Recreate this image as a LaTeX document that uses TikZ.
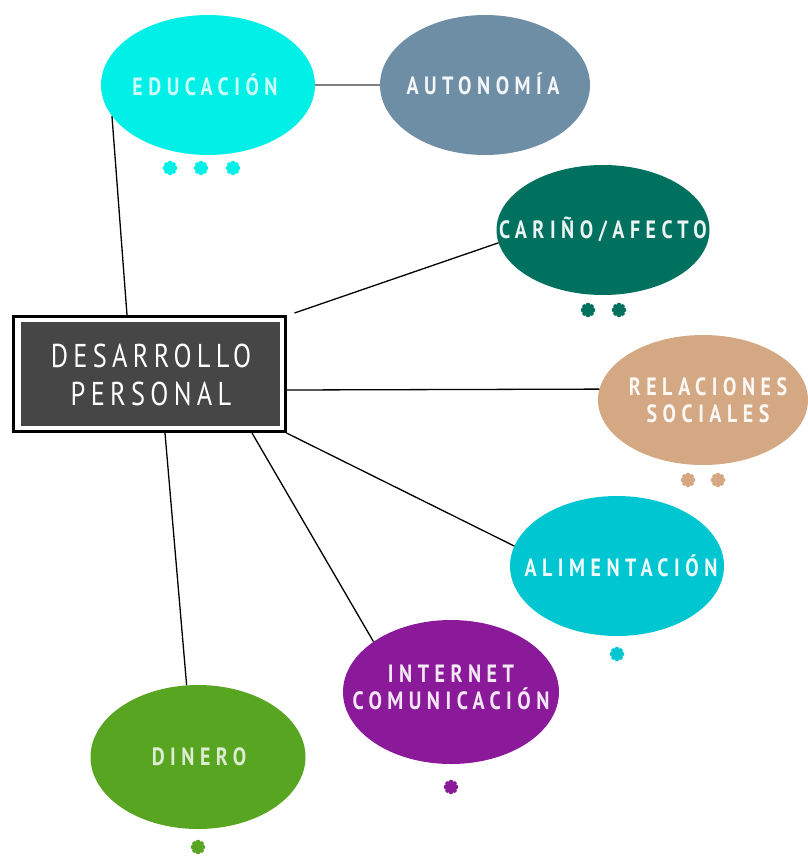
\documentclass[tikz,border=0pt]{standalone}
\usepackage{fontspec}
\setmainfont{PT Sans}
\newfontfamily\lblfont[LetterSpace=22,FakeStretch=0.8]{PT Sans Bold}
\newfontfamily\mainfont[LetterSpace=16,FakeStretch=0.8]{PT Sans}
\usetikzlibrary{shapes.geometric}
\definecolor{cEdu}{HTML}{00F0E8}
\definecolor{cAut}{HTML}{6E8EA6}
\definecolor{cCar}{HTML}{00705F}
\definecolor{cRel}{HTML}{D4A882}
\definecolor{cAli}{HTML}{00C6D2}
\definecolor{cInt}{HTML}{8B1A9A}
\definecolor{cDin}{HTML}{57A520}
\definecolor{cBox}{HTML}{464646}
\tikzset{
  bubble/.style={ellipse, inner sep=0pt},
  lbl/.style={text=white, font=\lblfont\fontsize{25}{27}\selectfont, align=center, inner sep=0pt},
  link/.style={draw=black, line width=1.3pt},
  flwr/.pic={
    \foreach \a in {0,45,...,315} \fill (\a:5) circle (2.3);
    \fill (0,0) circle (4.2);
  }
}
\begin{document}
\begin{tikzpicture}[x=1pt,y=-1pt]
\useasboundingbox (0,0) rectangle (807,859);
\fill[white] (0,0) rectangle (807,859);
% main box
\node[draw=black, line width=3pt, fill=white, minimum width=272pt, minimum height=115pt, inner sep=0pt] (box) at (149,374) {};
\node[fill=cBox, minimum width=259pt, minimum height=104pt, inner sep=0pt] (boxin) at (150,374) {};
\node[text=white, align=center, font=\mainfont\fontsize{33}{38}\selectfont, inner sep=0pt] (boxtxt) at (151,375) {DESARROLLO\\PERSONAL};
% bubbles
\node[bubble, fill=cEdu, minimum width=214pt, minimum height=140pt] (edu) at (208,85) {};
\node[bubble, fill=cAut, minimum width=210pt, minimum height=140pt] (aut) at (485,85) {};
\node[bubble, fill=cCar, minimum width=213pt, minimum height=130pt] (car) at (603,230) {};
\node[bubble, fill=cRel, minimum width=210pt, minimum height=130pt] (rel) at (703,400) {};
\node[bubble, fill=cAli, minimum width=214pt, minimum height=140pt] (ali) at (617,566) {};
\node[bubble, fill=cInt, minimum width=216pt, minimum height=144pt] (int) at (451,692) {};
\node[bubble, fill=cDin, minimum width=215pt, minimum height=144pt] (din) at (198,757) {};
% labels
\node[lbl, text=white!80!cEdu] (tedu) at (205,85) {EDUCACIÓN};
\node[lbl, text=white!92!cAut] (taut) at (483,84) {AUTONOMÍA};
\node[lbl, text=white!92!cCar] (tcar) at (603,229) {CARIÑO/AFECTO};
\node[lbl, text=white!92!cRel] (trel) at (708,400) {RELACIONES\\SOCIALES};
\node[lbl, text=white!92!cAli] (tali) at (621,566) {ALIMENTACIÓN};
\node[lbl, text=white!90!cInt] (tint) at (451,687) {INTERNET\\COMUNICACIÓN};
\node[lbl, text=white!80!cDin] (tdin) at (199,757) {DINERO};
% connectors
\draw[draw=gray, line width=1.2pt] (edu.east) -- (aut.west);
\draw[link] (edu.198) -- ([xshift=-22pt]box.north);
\draw[link] ([xshift=8pt,yshift=2pt]box.north east) -- (car.187);
\draw[link] ([yshift=-16pt]box.east) -- (rel.174);
\draw[link] (box.south east) -- (ali.169);
\draw[link] ([xshift=103pt]box.south) -- (int.147);
\draw[link] ([xshift=16pt]box.south) -- (din.99);
% marks
\pic[color=cEdu] at (170,168) {flwr};
\pic[color=cEdu] at (201,168) {flwr};
\pic[color=cEdu] at (233,168) {flwr};
\pic[color=cCar] at (588,310) {flwr};
\pic[color=cCar] at (619,310) {flwr};
\pic[color=cRel] at (688,480) {flwr};
\pic[color=cRel] at (718,480) {flwr};
\pic[color=cAli] at (617,654) {flwr};
\pic[color=cInt] at (451,787) {flwr};
\pic[color=cDin] at (198,847) {flwr};
\end{tikzpicture}
\end{document}
